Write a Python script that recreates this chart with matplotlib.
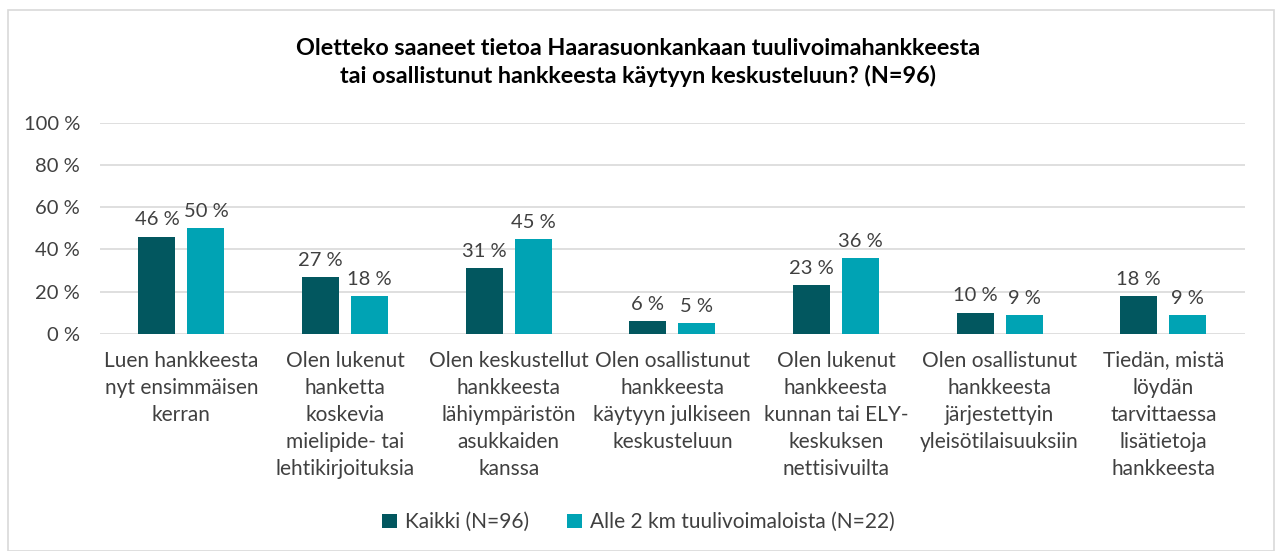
import matplotlib.pyplot as plt
import numpy as np
from matplotlib.patches import Rectangle

categories = [
    "Luen hankkeesta\nnyt ensimmäisen\nkerran",
    "Olen lukenut\nhanketta\nkoskevia\nmielipide- tai\nlehtikirjoituksia",
    "Olen keskustellut\nhankkeesta\nlähiympäristön\nasukkaiden\nkanssa",
    "Olen osallistunut\nhankkeesta\nkäytyyn julkiseen\nkeskusteluun",
    "Olen lukenut\nhankkeesta\nkunnan tai ELY-\nkeskuksen\nnettisivuilta",
    "Olen osallistunut\nhankkeesta\njärjestettyin\nyleisötilaisuuksiin",
    "Tiedän, mistä\nlöydän\ntarvittaessa\nlisätietoja\nhankkeesta",
]
kaikki = [46, 27, 31, 6, 23, 10, 18]
alle2km = [50, 18, 45, 5, 36, 9, 9]
series_names = ["Kaikki (N=96)", "Alle 2 km tuulivoimaloista (N=22)"]
colors = ["#02575F", "#00A3B4"]
title = ("Oletteko saaneet tietoa Haarasuonkankaan tuulivoimahankkeesta\n"
         "tai osallistunut hankkeesta käytyyn keskusteluun? (N=96)")

plt.rcParams['font.family'] = ['Lato', 'DejaVu Sans']

fig = plt.figure(figsize=(12.77, 5.51), dpi=100)
ax = fig.add_axes([0.078, 0.394, 0.897, 0.383])

# outer frame like the source chart
fig.patches.append(Rectangle((0.006, 0.0), 0.992, 0.982, transform=fig.transFigure,
                             fill=False, edgecolor="#D9D9D9", linewidth=1.2))

x = np.arange(len(categories))
w = 0.226
off = (w + 0.073) / 2
b1 = ax.bar(x - off, kaikki, w, color=colors[0], label=series_names[0], zorder=3)
b2 = ax.bar(x + off, alle2km, w, color=colors[1], label=series_names[1], zorder=3)

for bars, vals in ((b1, kaikki), (b2, alle2km)):
    for rect, v in zip(bars, vals):
        ax.annotate(f"{v} %", (rect.get_x() + rect.get_width() / 2, v),
                    xytext=(0, 6), textcoords="offset points",
                    ha="center", va="bottom", fontsize=14.5, color="#404040")

ax.set_ylim(0, 100)
ax.set_xlim(-0.5, len(categories) - 0.5)
ax.set_yticks(np.arange(0, 101, 20))
ax.set_yticklabels([f"{t} %" for t in range(0, 101, 20)], fontsize=14.5, color="#404040")
ax.set_xticks(x)
ax.set_xticklabels(categories, fontsize=15, color="#404040", linespacing=1.45)
ax.tick_params(axis="x", length=0, pad=12)
ax.tick_params(axis="y", length=0, pad=14)
ax.grid(axis="y", color="#D9D9D9", linewidth=1.2, zorder=0)
for s in ax.spines.values():
    s.set_visible(False)

fig.text(0.5, 0.887, title, ha="center", va="center", fontsize=16.8,
         fontweight="bold", color="#000000", linespacing=1.35)

fig.legend(loc="center", bbox_to_anchor=(0.5, 0.052), ncol=2, frameon=False,
           fontsize=15, handlelength=0.7, handleheight=0.7, handletextpad=0.4,
           columnspacing=1.8, labelcolor="#404040")

fig.savefig("out.png", dpi=100)
